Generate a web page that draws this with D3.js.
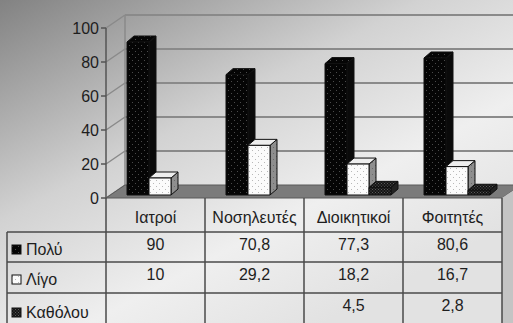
<!DOCTYPE html>
<html>
<head>
<meta charset="utf-8">
<script src="https://cdn.jsdelivr.net/npm/d3@7"></script>
<style>
  html, body { margin: 0; padding: 0; background: #fff; }
  svg { display: block; }
  text { font-family: "Liberation Sans", Arial, sans-serif; fill: #1e1e1e; }
</style>
</head>
<body>
<script>
// Survey answers per group (%)
const categories = ["Ιατροί", "Νοσηλευτές", "Διοικητικοί", "Φοιτητές"];
const seriesNames = ["Πολύ", "Λίγο", "Καθόλου"];
const valuesPolu = [90, 70.8, 77.3, 80.6];
const valuesLigo = [10, 29.2, 18.2, 16.7];
const valuesKatholou = [null, null, 4.5, 2.8];
const tickValues = [0, 20, 40, 60, 80, 100];

const seriesValues = [valuesPolu, valuesLigo, valuesKatholou];
const fmt = v => v == null ? "" : String(v).replace(".", ",");

const W = 513, H = 323;
const svg = d3.select("body").append("svg").attr("width", W).attr("height", H);
const defs = svg.append("defs");

// background wash
const bg = defs.append("linearGradient").attr("id", "bg")
  .attr("x1", 0).attr("y1", 0).attr("x2", 0.75).attr("y2", 0.9);
bg.append("stop").attr("offset", 0).attr("stop-color", "#828282");
bg.append("stop").attr("offset", 0.45).attr("stop-color", "#d2d2d2");
bg.append("stop").attr("offset", 0.75).attr("stop-color", "#efefef");
bg.append("stop").attr("offset", 1).attr("stop-color", "#e2e2e2");
svg.append("rect").attr("width", W).attr("height", H).attr("fill", "url(#bg)");

// fill patterns for the three series
function dotPattern(id, base, dot, size) {
  const p = defs.append("pattern").attr("id", id).attr("patternUnits", "userSpaceOnUse")
    .attr("width", size).attr("height", size);
  p.append("rect").attr("width", size).attr("height", size).attr("fill", base);
  p.append("rect").attr("x", 0).attr("y", 0).attr("width", 1).attr("height", 1).attr("fill", dot);
  p.append("rect").attr("x", size / 2).attr("y", size / 2).attr("width", 1).attr("height", 1).attr("fill", dot);
}
dotPattern("pPolu", "#050505", "#4a4a4a", 6);
dotPattern("pLigo", "#fbfbfb", "#b8b8b8", 6);
dotPattern("pKath", "#151515", "#5a5a5a", 3);
dotPattern("pLigoSide", "#8e8e8e", "#6a6a6a", 6);

const fronts = ["url(#pPolu)", "url(#pLigo)", "url(#pKath)"];
const tops = ["url(#pPolu)", "#eeeeee", "url(#pKath)"];
const sides = ["#0a0a0a", "url(#pLigoSide)", "#222"];

// geometry
const colX0 = 106, colX1 = 502;
const depth = { dx: 19, dy: -13 };      // wall depth
const barDepth = { dx: 7, dy: -6 };     // column depth
const x = d3.scaleBand().domain(categories).range([colX0, colX1]);
const xs = d3.scaleBand().domain(seriesNames).range([21, 87]);
const yFront = d3.scaleLinear().domain([0, 100]).range([198, 28]);
const yBar = d3.scaleLinear().domain([0, 100]).range([195, 25]);
const yBack = v => yFront(v) + depth.dy;

const gridColor = "#8a8a8a";

// back wall grid lines
const wall = svg.append("g");
wall.selectAll("line.grid").data(tickValues.filter(t => t > 0)).join("line")
  .attr("x1", colX0 + depth.dx).attr("x2", W + 2)
  .attr("y1", d => yBack(d)).attr("y2", d => yBack(d))
  .attr("stroke", gridColor).attr("stroke-width", 2);
wall.append("line")
  .attr("x1", colX0 + depth.dx).attr("x2", colX0 + depth.dx)
  .attr("y1", yBack(100)).attr("y2", yBack(0))
  .attr("stroke", gridColor).attr("stroke-width", 1.5);
// side wall diagonals
wall.selectAll("line.diag").data(tickValues).join("line")
  .attr("x1", colX0).attr("y1", d => yFront(d))
  .attr("x2", colX0 + depth.dx).attr("y2", d => yBack(d))
  .attr("stroke", gridColor).attr("stroke-width", 1.5);

// floor
const floorPts = [[colX0, yFront(0)], [colX1, yFront(0)], [colX1 + depth.dx, yBack(0)], [colX0 + depth.dx, yBack(0)]];
svg.append("polygon").attr("points", floorPts.map(p => p.join(",")).join(" "))
  .attr("fill", "#7b7b7b").attr("stroke", "#5a5a5a").attr("stroke-width", 1);
// right side slab
svg.append("polygon")
  .attr("points", [[colX1, yFront(0)], [colX1 + depth.dx, yBack(0)], [colX1 + depth.dx, H], [colX1, H]].map(p => p.join(",")).join(" "))
  .attr("fill", "#c4c4c4");

// value axis
const axis = svg.append("g");
axis.append("line").attr("x1", colX0).attr("x2", colX0)
  .attr("y1", yFront(100)).attr("y2", yFront(0))
  .attr("stroke", "#555").attr("stroke-width", 1.5);
axis.selectAll("line.tick").data(tickValues).join("line")
  .attr("x1", colX0 - 5).attr("x2", colX0)
  .attr("y1", d => yFront(d)).attr("y2", d => yFront(d))
  .attr("stroke", "#555").attr("stroke-width", 1.5);
axis.selectAll("text").data(tickValues).join("text")
  .attr("x", colX0 - 7).attr("y", d => yFront(d) + 6)
  .attr("text-anchor", "end").attr("font-size", 16).text(d => d);

// columns
const bars = svg.append("g");
const barData = [];
seriesNames.forEach((s, si) => categories.forEach((c, ci) => {
  const v = seriesValues[si][ci];
  if (v != null) barData.push({ s, si, c, v });
}));
barData.sort((a, b) => d3.ascending(categories.indexOf(a.c), categories.indexOf(b.c)) || d3.ascending(a.si, b.si));
const pts = arr => arr.map(p => p.join(",")).join(" ");
barData.forEach(d => {
  const x0 = x(d.c) + xs(d.s), w = xs.bandwidth();
  const yT = yBar(d.v), yB = yBar(0);
  const { dx, dy } = barDepth;
  const g = bars.append("g").attr("stroke", "#111").attr("stroke-width", 1).attr("stroke-linejoin", "round");
  g.append("polygon").attr("points", pts([[x0 + w, yT], [x0 + w + dx, yT + dy], [x0 + w + dx, yB + dy], [x0 + w, yB]]))
    .attr("fill", sides[d.si]);
  g.append("polygon").attr("points", pts([[x0, yT], [x0 + dx, yT + dy], [x0 + w + dx, yT + dy], [x0 + w, yT]]))
    .attr("fill", tops[d.si]);
  g.append("rect").attr("x", x0).attr("y", yT).attr("width", w).attr("height", yB - yT)
    .attr("fill", fronts[d.si]);
});

// data table
const table = svg.append("g");
const rowY = [198, 232, 262, 293, H];
const legendX = 7;
const lineColor = "#4a4a4a";
// horizontal rules
[1, 2, 3].forEach(i => table.append("line")
  .attr("x1", legendX).attr("x2", colX1).attr("y1", rowY[i]).attr("y2", rowY[i])
  .attr("stroke", lineColor).attr("stroke-width", 1.5));
// vertical rules
const colEdges = categories.map(c => x(c)).concat([colX1]);
table.selectAll("line.v").data(colEdges).join("line")
  .attr("x1", d => d).attr("x2", d => d).attr("y1", rowY[0]).attr("y2", H)
  .attr("stroke", lineColor).attr("stroke-width", 1.5);
table.append("line").attr("x1", legendX).attr("x2", legendX).attr("y1", rowY[1]).attr("y2", H)
  .attr("stroke", lineColor).attr("stroke-width", 1.5);

// headers
table.selectAll("text.h").data(categories).join("text")
  .attr("x", d => x(d) + x.bandwidth() / 2).attr("y", 223)
  .attr("text-anchor", "middle").attr("font-size", 16).text(d => d);

// legend cells and values
const valueBase = [250, 280, 311];
const legendBase = [255, 285, 318];
const swatchFill = ["url(#pPolu)", "url(#pLigo)", "url(#pKath)"];
seriesNames.forEach((s, si) => {
  table.append("rect").attr("x", 12).attr("y", legendBase[si] - 10).attr("width", 9).attr("height", 9)
    .attr("fill", swatchFill[si]).attr("stroke", "#111").attr("stroke-width", 1);
  table.append("text").attr("x", 26).attr("y", legendBase[si]).attr("font-size", 16).text(s);
  table.selectAll(null).data(categories).join("text")
    .attr("x", c => x(c) + x.bandwidth() / 2).attr("y", valueBase[si])
    .attr("text-anchor", "middle").attr("font-size", 16)
    .text((c, ci) => fmt(seriesValues[si][ci]));
});
</script>
</body>
</html>
